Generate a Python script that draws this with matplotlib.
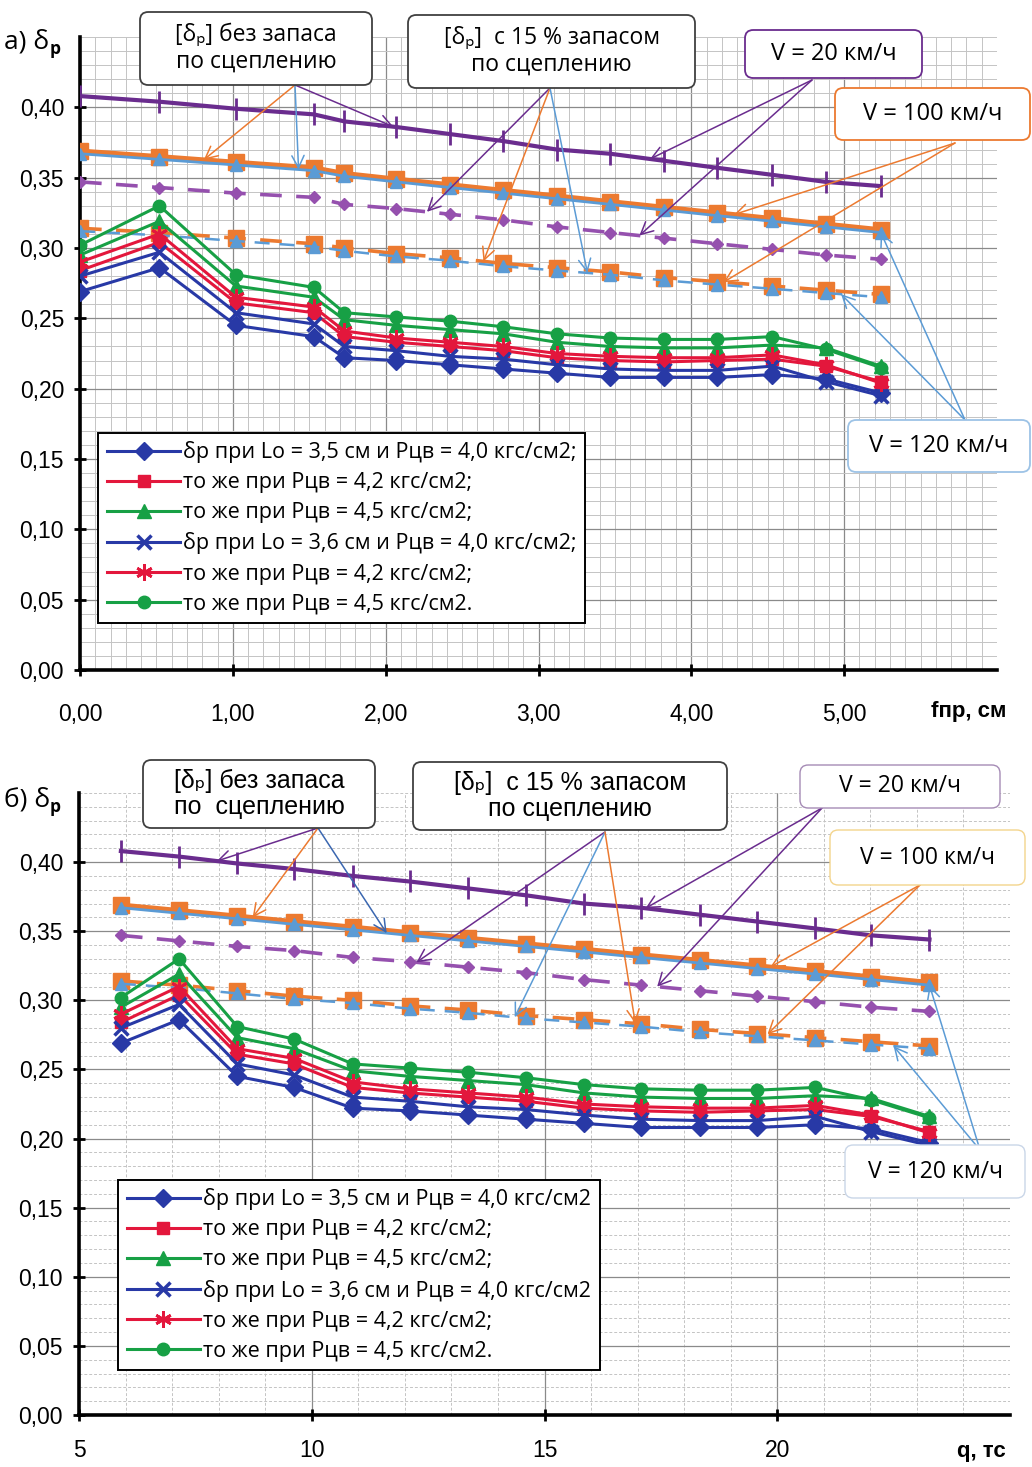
import matplotlib
matplotlib.use("Agg")
import matplotlib.pyplot as plt
from matplotlib.patches import FancyBboxPatch
from matplotlib.lines import Line2D
from matplotlib.ticker import MultipleLocator, FixedLocator, FuncFormatter
import numpy as np

W, H = 1032, 1467

# расчётные точки: прогиб fпр, см (график а) и нагрузка q, тс (график б)
f_pr = [0.00, 0.52, 1.02, 1.53, 1.73, 2.07, 2.42, 2.77, 3.12, 3.47, 3.82, 4.17, 4.53, 4.88, 5.24]
q_ts = [5.90, 7.15, 8.40, 9.62, 10.88, 12.10, 13.35, 14.60, 15.85, 17.07, 18.33, 19.57, 20.82, 22.02, 23.27]

# расчётные δр
dp_35_40 = [0.269, 0.286, 0.245, 0.237, 0.222, 0.220, 0.217, 0.214, 0.211, 0.208, 0.208, 0.208, 0.210, 0.207, 0.197]
dp_35_42 = [0.284, 0.304, 0.261, 0.254, 0.237, 0.233, 0.230, 0.227, 0.222, 0.220, 0.219, 0.220, 0.221, 0.216, 0.205]
dp_35_45 = [0.295, 0.319, 0.273, 0.265, 0.249, 0.245, 0.242, 0.239, 0.233, 0.230, 0.229, 0.229, 0.231, 0.229, 0.216]
dp_36_40 = [0.280, 0.297, 0.254, 0.246, 0.230, 0.227, 0.223, 0.221, 0.217, 0.214, 0.213, 0.213, 0.216, 0.205, 0.195]
dp_36_42 = [0.290, 0.310, 0.265, 0.258, 0.241, 0.236, 0.233, 0.230, 0.225, 0.223, 0.222, 0.222, 0.224, 0.217, 0.204]
dp_36_45 = [0.302, 0.330, 0.281, 0.272, 0.254, 0.251, 0.248, 0.244, 0.239, 0.236, 0.235, 0.235, 0.237, 0.228, 0.215]

# допускаемые [δр] без запаса и с 15 % запасом по сцеплению
dop_v20 = [0.408, 0.404, 0.399, 0.395, 0.390, 0.386, 0.381, 0.376, 0.370, 0.367, 0.362, 0.357, 0.352, 0.347, 0.344]
dop_v20_15 = [0.347, 0.343, 0.339, 0.336, 0.331, 0.328, 0.324, 0.320, 0.315, 0.311, 0.307, 0.303, 0.299, 0.295, 0.292]
dop_v100 = [0.369, 0.365, 0.361, 0.357, 0.353, 0.349, 0.345, 0.341, 0.337, 0.333, 0.329, 0.325, 0.321, 0.317, 0.313]
dop_v100_15 = [0.314, 0.311, 0.307, 0.303, 0.300, 0.296, 0.293, 0.289, 0.286, 0.283, 0.279, 0.276, 0.273, 0.270, 0.267]
dop_v120 = [0.367, 0.363, 0.359, 0.355, 0.351, 0.347, 0.343, 0.339, 0.335, 0.331, 0.327, 0.323, 0.319, 0.315, 0.311]
dop_v120_15 = [0.312, 0.309, 0.305, 0.301, 0.298, 0.294, 0.291, 0.287, 0.284, 0.281, 0.277, 0.274, 0.271, 0.268, 0.265]

# подписи осей
y_ticks = [0.00, 0.05, 0.10, 0.15, 0.20, 0.25, 0.30, 0.35, 0.40]
x_ticks_a = [0, 1, 2, 3, 4, 5]
x_ticks_b = [5, 10, 15, 20]

legend_a = ["δр при Lo = 3,5 см и Рцв = 4,0 кгс/см2;", "то же при Рцв = 4,2 кгс/см2;",
            "то же при Рцв = 4,5 кгс/см2;", "δр при Lo = 3,6 см и Рцв = 4,0 кгс/см2;",
            "то же при Рцв = 4,2 кгс/см2;", "то же при Рцв = 4,5 кгс/см2."]
legend_b = ["δр при Lo = 3,5 см и Рцв = 4,0 кгс/см2", "то же при Рцв = 4,2 кгс/см2;",
            "то же при Рцв = 4,5 кгс/см2;", "δр при Lo = 3,6 см и Рцв = 4,0 кгс/см2",
            "то же при Рцв = 4,2 кгс/см2;", "то же при Рцв = 4,5 кгс/см2."]

PURPLE = "#6A2C8E"
PURPLE_L = "#9550AE"
ORANGE = "#EC7A30"
LBLUE = "#5B9BD5"
BLUE = "#2839A6"
RED = "#E3173C"
GREEN = "#17A045"

NARROW = ["Liberation Sans Narrow", "Liberation Sans", "DejaVu Sans"]
HUMAN = ["Open Sans", "Noto Sans", "DejaVu Sans"]
ARIAL = ["Liberation Sans", "DejaVu Sans"]

fig = plt.figure(figsize=(W / 100, H / 100), dpi=100)


def fpos(x, y):
    return x / W, 1 - y / H


def add_box(x0, y0, x1, y1, text, ec, family, size, lw=1.3):
    fx0, fy1 = fpos(x0, y0)
    fx1, fy0 = fpos(x1, y1)
    box = FancyBboxPatch((fx0, fy0), fx1 - fx0, fy1 - fy0, transform=fig.transFigure,
                         boxstyle="round,pad=0,rounding_size=0.008", fc="white", ec=ec, lw=lw,
                         zorder=20, mutation_aspect=W / H)
    fig.add_artist(box)
    fig.text((fx0 + fx1) / 2, (fy0 + fy1) / 2, text, ha="center", va="center", ma="center",
             family=family, fontsize=size, linespacing=1.15, zorder=21)


def arrow(ax, x, y, src, color):
    ax.annotate("", xy=(x, np.interp(x, ax.xdata_, y)), xycoords="data",
                xytext=fpos(*src), textcoords="figure fraction", annotation_clip=False,
                arrowprops=dict(arrowstyle="->", color=color, lw=1.1, shrinkA=0, shrinkB=0,
                                mutation_scale=22), zorder=15)


def draw_panel(ax, x, legend_labels, x_ticks, tick_fmt, xmin, xmax, xmin_step, minor_ls,
               xpad, leg_anchor):
    ax.xdata_ = x
    ax.set_xlim(xmin, xmax)
    ax.set_ylim(0, 0.45)
    ax.xaxis.set_major_locator(FixedLocator(x_ticks))
    ax.xaxis.set_minor_locator(MultipleLocator(xmin_step))
    ax.yaxis.set_major_locator(FixedLocator(y_ticks))
    ax.yaxis.set_minor_locator(MultipleLocator(0.01))
    ax.grid(which="major", color="#8A8A8A", lw=0.9)
    ax.grid(which="minor", color="#C4C4C4", lw=0.7, ls=minor_ls)
    ax.set_axisbelow(True)
    for s in ["top", "right"]:
        ax.spines[s].set_visible(False)
    for s in ["left", "bottom"]:
        ax.spines[s].set_linewidth(2.6)
    ax.tick_params(which="major", direction="inout", length=9, width=2, pad=7,
                   labelsize=16.5)
    ax.tick_params(axis="x", pad=xpad)
    ax.tick_params(which="minor", length=0)
    ax.yaxis.set_major_formatter(FuncFormatter(lambda v, _: f"{v:.2f}".replace(".", ",")))
    ax.xaxis.set_major_formatter(FuncFormatter(tick_fmt))
    for lab in ax.get_xticklabels() + ax.get_yticklabels():
        lab.set_family(NARROW)

    # допускаемые значения
    ax.plot(x, dop_v20, color=PURPLE, lw=3, marker="|", ms=16, mew=2, zorder=5)
    ax.plot(x, dop_v20_15, color=PURPLE_L, lw=2.6, ls=(0, (6, 4)), marker="D", ms=6, zorder=5)
    ax.plot(x, dop_v100, color=ORANGE, lw=3.5, marker="s", ms=11, zorder=5)
    ax.plot(x, dop_v120, color=LBLUE, lw=2, marker="^", ms=8, zorder=6)
    ax.plot(x, dop_v100_15, color=ORANGE, lw=2.6, ls=(0, (6, 4)), marker="s", ms=11, zorder=5)
    ax.plot(x, dop_v120_15, color=LBLUE, lw=1.8, ls=(0, (6, 4)), marker="^", ms=8, zorder=6)

    # расчётные значения
    styles = [(dp_35_40, BLUE, "D", 9, 1), (dp_35_42, RED, "s", 9, 1), (dp_35_45, GREEN, "^", 10, 1),
              (dp_36_40, BLUE, "x", 10, 2.5), (dp_36_42, RED, (6, 2, 0), 12, 2), (dp_36_45, GREEN, "o", 9, 1)]
    handles = []
    for y, c, m, ms, mew in styles:
        ax.plot(x, y, color=c, lw=2.2, marker=m, ms=ms, mew=mew, mec=c, mfc=c, zorder=8)
        handles.append(Line2D([], [], color=c, lw=2.2, marker=m, ms=ms, mew=mew, mec=c, mfc=c))
    leg = ax.legend(handles, legend_labels, loc="lower left", bbox_to_anchor=leg_anchor,
                    prop=dict(family=HUMAN, size=15.5), handlelength=3.4, labelspacing=0.42,
                    handletextpad=0.15, borderpad=0.4, borderaxespad=0, fancybox=False,
                    framealpha=1, edgecolor="black")
    leg.get_frame().set_linewidth(1.4)
    leg.set_zorder(30)


# ---------- график а) ----------
ax1 = fig.add_axes([80 / W, 1 - 670 / H, 917 / W, 633 / H])
draw_panel(ax1, f_pr, legend_a, x_ticks_a, lambda v, _: f"{v:.2f}".replace(".", ","), 0, 6, 0.1, "-",
           19, (0.02, 0.074))

fig.text(*fpos(4, 42), "а) δ", fontsize=19, family=HUMAN, va="center", ha="left")
fig.text(*fpos(50, 49), "р", fontsize=12.5, family=HUMAN, va="center", ha="left", weight="bold")
fig.text(*fpos(1006, 712), "fпр, см", fontsize=16, family=NARROW, weight="bold",
         ha="right", va="center")

add_box(140, 12, 372, 85, "[δₚ] без запаса\nпо сцеплению", "#404040", HUMAN, 16.5)
add_box(408, 15, 695, 88, "[δₚ]  с 15 % запасом\nпо сцеплению", "#404040", HUMAN, 16.5)
add_box(745, 30, 922, 78, "V = 20 км/ч", PURPLE, HUMAN, 17)
add_box(835, 88, 1030, 140, "V = 100 км/ч", ORANGE, HUMAN, 17)
add_box(848, 420, 1030, 472, "V = 120 км/ч", "#9DC3E6", HUMAN, 17)

arrow(ax1, 0.81, dop_v100, (295, 85), ORANGE)
arrow(ax1, 1.43, dop_v120, (295, 85), LBLUE)
arrow(ax1, 2.05, dop_v20, (295, 85), PURPLE)
arrow(ax1, 2.27, dop_v20_15, (550, 88), PURPLE)
arrow(ax1, 2.64, dop_v100_15, (550, 88), ORANGE)
arrow(ax1, 3.32, dop_v120_15, (550, 88), LBLUE)
arrow(ax1, 3.73, dop_v20, (812, 80), PURPLE)
arrow(ax1, 3.66, dop_v20_15, (812, 80), PURPLE)
arrow(ax1, 4.28, dop_v100, (955, 143), ORANGE)
arrow(ax1, 4.21, dop_v100_15, (955, 143), ORANGE)
arrow(ax1, 5.24, dop_v120, (965, 420), LBLUE)
arrow(ax1, 4.98, dop_v120_15, (965, 420), LBLUE)

# ---------- график б) ----------
ax2 = fig.add_axes([79 / W, 1 - 1415 / H, 931 / W, 622 / H])
draw_panel(ax2, q_ts, legend_b, x_ticks_b, lambda v, _: f"{v:.0f}", 5, 25, 1, (0, (3, 2)),
           13, (0.042, 0.072))

fig.text(*fpos(4, 800), "б) δ", fontsize=19, family=HUMAN, va="center", ha="left")
fig.text(*fpos(50, 807), "р", fontsize=12.5, family=HUMAN, va="center", ha="left", weight="bold")
fig.text(*fpos(1006, 1452), "q, тс", fontsize=16, family=NARROW, weight="bold",
         ha="right", va="center")

add_box(143, 760, 375, 828, "[δₚ] без запаса\nпо  сцеплению", "#404040", ARIAL, 18)
add_box(413, 762, 727, 830, "[δₚ]  с 15 % запасом\nпо сцеплению", "#404040", ARIAL, 18)
add_box(800, 765, 1000, 808, "V = 20 км/ч", "#A58BB5", HUMAN, 16.5, lw=1)
add_box(830, 830, 1025, 885, "V = 100 км/ч", "#F3D48C", HUMAN, 16.5, lw=1)
add_box(845, 1145, 1025, 1198, "V = 120 км/ч", "#C9D6E8", HUMAN, 16.5, lw=1)

arrow(ax2, 7.96, dop_v20, (318, 828), PURPLE)
arrow(ax2, 8.73, dop_v100, (318, 828), ORANGE)
arrow(ax2, 11.61, dop_v120, (318, 828), "#3B67B0")
arrow(ax2, 12.25, dop_v20_15, (605, 832), PURPLE)
arrow(ax2, 14.36, dop_v120_15, (605, 832), LBLUE)
arrow(ax2, 16.95, dop_v100_15, (605, 832), ORANGE)
arrow(ax2, 17.17, dop_v20, (822, 808), PURPLE)
arrow(ax2, 17.42, dop_v20_15, (822, 808), PURPLE)
arrow(ax2, 19.85, dop_v100, (920, 885), ORANGE)
arrow(ax2, 19.79, dop_v100_15, (920, 885), ORANGE)
arrow(ax2, 23.27, dop_v120, (980, 1150), LBLUE)
arrow(ax2, 22.50, dop_v120_15, (980, 1150), LBLUE)

fig.savefig("out.png", dpi=100)
